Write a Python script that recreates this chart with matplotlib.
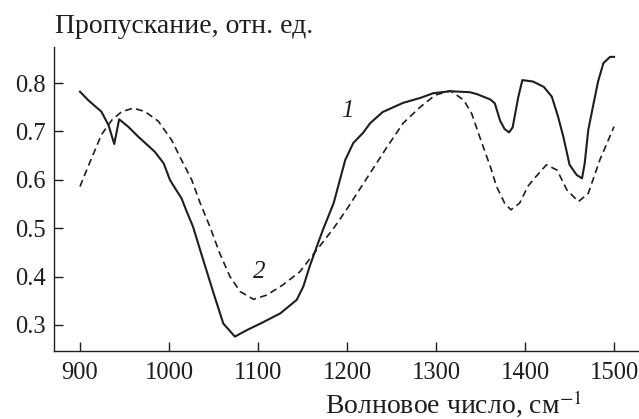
import numpy as np
import matplotlib
matplotlib.use('Agg')
import matplotlib.pyplot as plt

plt.rcParams['font.family'] = ['Liberation Serif', 'DejaVu Serif']
plt.rcParams['mathtext.fontset'] = 'stix'

# curve 1 (solid)
wn1 = [900, 909, 917, 924, 932, 938.5, 944, 954, 965.5, 984, 994, 1001,
       1007, 1014, 1020, 1027, 1038.5, 1050, 1061, 1074, 1087, 1106, 1125,
       1143.5, 1151, 1158, 1166, 1173, 1185, 1198, 1207, 1218, 1226, 1240,
       1263, 1282, 1297, 1316, 1338, 1346, 1361, 1366, 1372, 1377, 1382,
       1386, 1392.5, 1397, 1409, 1421, 1430, 1437, 1443, 1450, 1458, 1464,
       1467, 1471, 1477, 1482, 1488, 1495.5, 1500]
tr1 = [0.782, 0.765, 0.752, 0.741, 0.713, 0.674, 0.725, 0.710, 0.689, 0.658,
       0.634, 0.600, 0.582, 0.562, 0.534, 0.503, 0.434, 0.366, 0.303, 0.276,
       0.289, 0.306, 0.324, 0.352, 0.380, 0.421, 0.462, 0.497, 0.552, 0.641,
       0.676, 0.697, 0.717, 0.740, 0.759, 0.769, 0.779, 0.783, 0.781, 0.777,
       0.766, 0.758, 0.722, 0.705, 0.698, 0.708, 0.772, 0.806, 0.803, 0.792,
       0.772, 0.731, 0.689, 0.631, 0.610, 0.603, 0.634, 0.703, 0.758, 0.803,
       0.841, 0.854, 0.854]

# curve 2 (dashed)
wn2 = [900, 909, 917, 924, 936, 947, 960, 973, 988, 1003, 1014, 1025.5,
       1035, 1046, 1057, 1068.5, 1080, 1095, 1110, 1128, 1147, 1166, 1185,
       1200, 1226, 1245, 1263, 1282, 1299, 1316, 1331, 1340, 1349, 1361,
       1368, 1377, 1384, 1394, 1403, 1409, 1424, 1436, 1447, 1460, 1471,
       1484, 1500]
tr2 = [0.586, 0.627, 0.662, 0.693, 0.724, 0.741, 0.748, 0.741, 0.721, 0.682,
       0.641, 0.600, 0.552, 0.503, 0.448, 0.400, 0.369, 0.353, 0.362, 0.383,
       0.410, 0.455, 0.500, 0.540, 0.614, 0.668, 0.717, 0.750, 0.775, 0.784,
       0.765, 0.737, 0.689, 0.627, 0.586, 0.552, 0.538, 0.552, 0.586, 0.600,
       0.631, 0.620, 0.579, 0.555, 0.572, 0.641, 0.710]

xticks = [900, 1000, 1100, 1200, 1300, 1400, 1500]
yticks = [0.3, 0.4, 0.5, 0.6, 0.7, 0.8]

W, H = 639, 419
fig = plt.figure(figsize=(W / 100, H / 100), dpi=100)
ax = fig.add_axes([54 / W, 1 - 350.5 / H, 585 / W, 303.5 / H])

col = '#1e1e1e'
ax.plot(wn1, tr1, color=col, lw=1.5)
ax.plot(wn2, tr2, color=col, lw=1.2, dashes=(4.2, 2.6))

ax.set_xlim(870.8, 1528)
ax.set_ylim(0.2473, 0.8744)
ax.set_xticks(xticks)
ax.set_yticks(yticks)
ax.set_xticklabels([str(v) for v in xticks])
ax.set_yticklabels(['%.1f' % v for v in yticks])

for s in ['top', 'right']:
    ax.spines[s].set_visible(False)
for s in ['left', 'bottom']:
    ax.spines[s].set_color(col)
    ax.spines[s].set_linewidth(1.0)

ax.tick_params(direction='in', length=6.5, width=1.0, color=col,
               labelsize=17.7, labelcolor=col)
ax.tick_params(axis='y', pad=6)
ax.tick_params(axis='x', pad=8)

ax.text(1200, 0.742, '1', style='italic', fontsize=18, color=col,
        ha='center', va='center')
ax.text(1101.5, 0.41, '2', style='italic', fontsize=18, color=col,
        ha='center', va='center')

fig.text(55 / W, 1 - 33 / H, 'Пропускание, отн. ед.', fontsize=20,
         color=col, ha='left', va='baseline')
fig.text(582 / W, 1 - 413 / H, 'Волновое число, см$^{-1}$', fontsize=20,
         color=col, ha='right', va='baseline')

fig.savefig('out.png', dpi=100)
